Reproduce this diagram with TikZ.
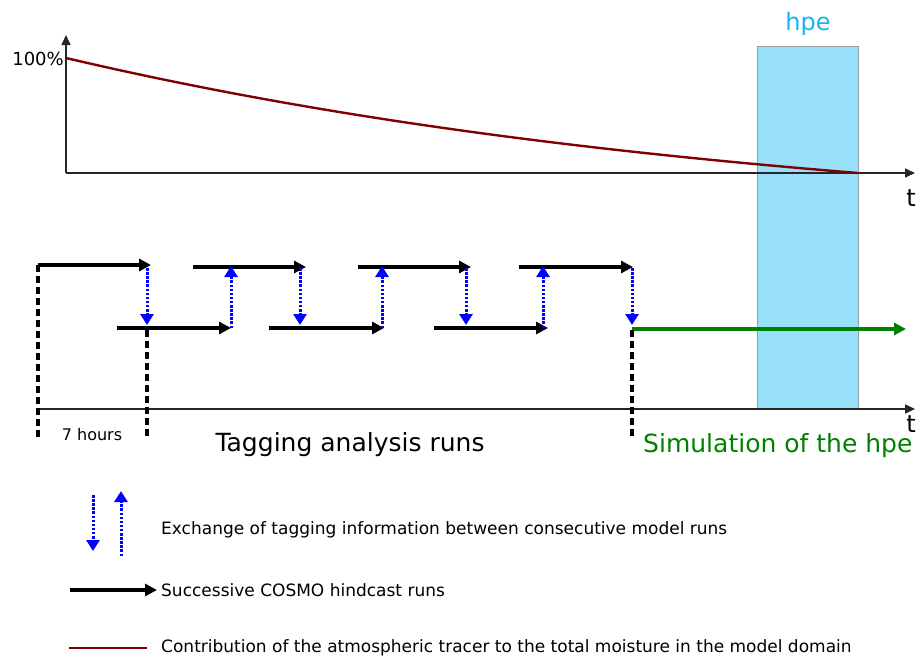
\documentclass[tikz,border=0pt]{standalone}
\usepackage{fontspec}
\setmainfont{DejaVu Sans}
\usetikzlibrary{arrows.meta}
\definecolor{tracer}{RGB}{128,0,0}
\definecolor{hpefill}{RGB}{153,224,250}
\definecolor{hpeedge}{RGB}{150,160,170}
\definecolor{hpetext}{RGB}{20,180,240}
\definecolor{simgreen}{RGB}{0,128,0}
\tikzset{
  axisline/.style={line width=1.5pt,draw=black!85,-{Triangle[length=10pt,width=9pt]}},
  runarrow/.style={line width=3.6pt,-{Triangle[length=12pt,width=12pt]}},
  simarrow/.style={line width=3.6pt,draw=simgreen,-{Triangle[length=12pt,width=12pt]},color=simgreen},
  exarrow/.style={line width=3pt,draw=blue,dash pattern=on 2.5pt off 1.6pt,-{Triangle[length=11pt,width=13pt]},color=blue},
  bound/.style={line width=3.3pt,dash pattern=on 7pt off 4pt},
  tracerline/.style={line width=2.4pt,draw=tracer},
  lbl/.style={inner sep=0pt,font=\fontsize{17}{20}\selectfont}
}
\begin{document}
\begin{tikzpicture}[x=1pt,y=-1pt]
\useasboundingbox (0,0) rectangle (920,656);
% hpe box
\node[draw=hpeedge,line width=1.2pt,fill=hpefill,minimum width=101pt,minimum height=363pt,inner sep=0pt,anchor=north west] (hpebox) at (757,46) {};
\node[text=hpetext,font=\fontsize{24}{28}\selectfont,inner sep=0pt] (hpelbl) at (808,24) {hpe};
% top axes
\coordinate (O1) at (66,173);
\coordinate (Y1) at (66,35);
\coordinate (X1) at (915,173);
\draw[axisline] (O1) -- (Y1);
\draw[axisline] (O1) -- (X1);
\node[inner sep=0pt,anchor=east,font=\fontsize{18}{20}\selectfont] (pct) at (64,59) {100\%};
\node[inner sep=0pt,font=\fontsize{24}{28}\selectfont] (t1) at (911,198) {t};
% tracer curve
\coordinate (C0) at (66,58);
\coordinate (C1) at (858,173);
\draw[tracerline] (C0) .. controls (330,120) and (600,152) .. (C1);
% bottom axis
\coordinate (O2) at (38,409);
\coordinate (X2) at (915,409);
\draw[axisline] (O2) -- (X2);
\node[inner sep=0pt,font=\fontsize{24}{28}\selectfont] (t2) at (911,424) {t};
% runs
\coordinate (T1s) at (38,265);  \coordinate (T1e) at (151,265);
\coordinate (T2s) at (193,267); \coordinate (T2e) at (306,267);
\coordinate (T3s) at (358,267); \coordinate (T3e) at (471,267);
\coordinate (T4s) at (519,267); \coordinate (T4e) at (633,267);
\coordinate (B1s) at (117,328); \coordinate (B1e) at (231,328);
\coordinate (B2s) at (269,328); \coordinate (B2e) at (384,328);
\coordinate (B3s) at (434,328); \coordinate (B3e) at (548,328);
\coordinate (Gs) at (632,329);  \coordinate (Ge) at (906,329);
\draw[runarrow] (T1s) -- (T1e);
\draw[runarrow] (T2s) -- (T2e);
\draw[runarrow] (T3s) -- (T3e);
\draw[runarrow] (T4s) -- (T4e);
\draw[runarrow] (B1s) -- (B1e);
\draw[runarrow] (B2s) -- (B2e);
\draw[runarrow] (B3s) -- (B3e);
\draw[simarrow] (Gs) -- (Ge);
% exchange arrows
\coordinate (E1a) at (147,268); \coordinate (E1b) at (147,325);
\coordinate (E2a) at (231,328); \coordinate (E2b) at (231,266);
\coordinate (E3a) at (300,268); \coordinate (E3b) at (300,325);
\coordinate (E4a) at (382,328); \coordinate (E4b) at (382,266);
\coordinate (E5a) at (466,268); \coordinate (E5b) at (466,325);
\coordinate (E6a) at (543,328); \coordinate (E6b) at (543,266);
\coordinate (E7a) at (632,268); \coordinate (E7b) at (632,325);
\foreach \e in {1,...,7} \draw[exarrow] (E\e a) -- (E\e b);
% dashed bounds
\coordinate (D1a) at (38,265);  \coordinate (D1b) at (38,438);
\coordinate (D2a) at (147,330); \coordinate (D2b) at (147,438);
\coordinate (D3a) at (632,330); \coordinate (D3b) at (632,438);
\draw[bound] (D1a) -- (D1b);
\draw[bound] (D2a) -- (D2b);
\draw[bound] (D3a) -- (D3b);
% labels
\node[inner sep=0pt,font=\fontsize{16}{18}\selectfont] (hours) at (92,435) {7 hours};
\node[inner sep=0pt,font=\fontsize{25}{28}\selectfont] (tag) at (350,445) {Tagging analysis runs};
\node[inner sep=0pt,anchor=west,text=simgreen,font=\fontsize{25}{28}\selectfont] (sim) at (643,446) {Simulation of the hpe};
% legend
\coordinate (L1a) at (93,495); \coordinate (L1b) at (93,551);
\coordinate (L2a) at (121,556); \coordinate (L2b) at (121,491);
\draw[exarrow] (L1a) -- (L1b);
\draw[exarrow] (L2a) -- (L2b);
\node[lbl,anchor=west] (leg1) at (161,530) {Exchange of tagging information between consecutive model runs};
\coordinate (L3a) at (70,590); \coordinate (L3b) at (157,590);
\draw[runarrow] (L3a) -- (L3b);
\node[lbl,anchor=west] (leg2) at (161,590) {Successive COSMO hindcast runs};
\coordinate (L4a) at (69,648); \coordinate (L4b) at (147,648);
\draw[tracerline] (L4a) -- (L4b);
\node[lbl,anchor=west] (leg3) at (161,648) {Contribution of the atmospheric tracer to the total moisture in the model domain};
\end{tikzpicture}
\end{document}
